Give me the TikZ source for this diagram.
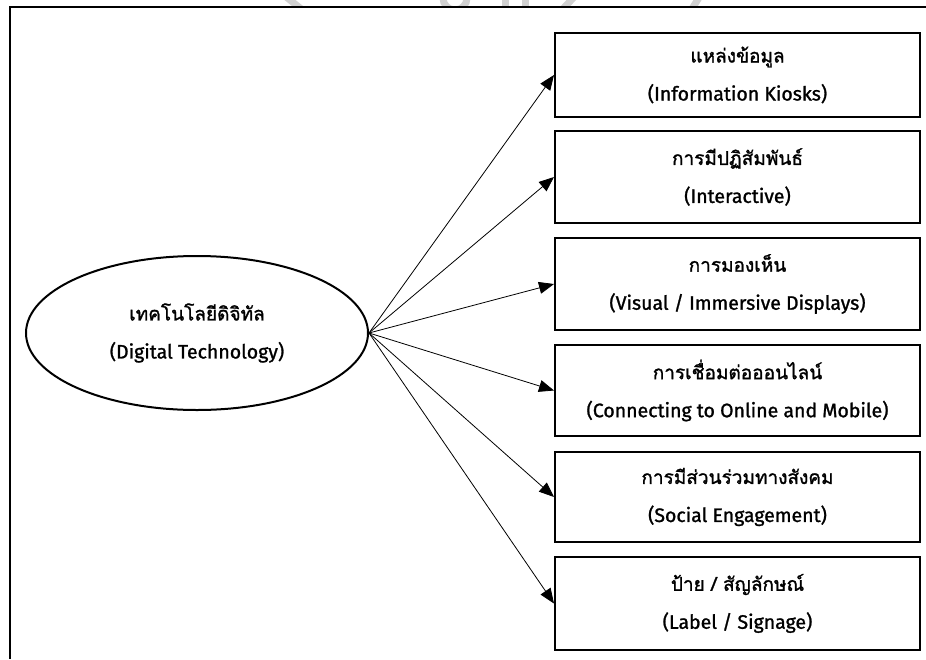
\documentclass[tikz,border=0pt]{standalone}
\usepackage{fontspec}
\usetikzlibrary{shapes.geometric,arrows.meta}
\newfontfamily\thaifont[Script=Thai,FakeBold=1.4]{Loma}
\newfontfamily\latinfont[FakeBold=1.2]{Fira Sans}
\newcommand{\thline}[1]{{\thaifont\fontsize{19}{38}\selectfont #1}}
\newcommand{\enline}[1]{{\latinfont\fontsize{19.5}{38}\selectfont #1}}
\begin{document}
\begin{tikzpicture}[x=1pt,y=-1pt,
  frameline/.style={line width=2.2pt,black},
  itembox/.style={draw,line width=2pt,rectangle,minimum width=365pt,inner sep=0pt,
    align=center,font=\fontsize{19}{38}\selectfont},
  hub/.style={draw,line width=2pt,ellipse,minimum width=342pt,minimum height=154pt,
    inner sep=0pt,align=center,font=\fontsize{19}{38}\selectfont},
  link/.style={line width=0.8pt,-{Triangle[length=15pt,width=12pt]}},
  seal/.style={line width=7pt,black!18}]
\useasboundingbox (0,0) rectangle (926,659);

% faint seal fragment above the frame
\begin{scope}
\clip (0,0) rectangle (926,6);
\draw[seal] (232,40) arc[start angle=180,end angle=110,radius=40];
\draw[seal] (285,-4) -- (305,12);
\draw[seal] (330,12) arc[start angle=180,end angle=90,radius=18];
\draw[seal] (400,30) arc[start angle=200,end angle=60,radius=30];
\draw[seal] (455,-2) circle[radius=12];
\draw[seal] (505,-4) -- (505,12);
\draw[seal] (525,-4) -- (525,12);
\draw[seal] (560,12) -- (575,-4);
\draw[seal] (620,12) arc[start angle=180,end angle=90,radius=20];
\draw[seal] (690,12) -- (700,-4);
\end{scope}

% outer frame
\draw[frameline] (926,7) -- (10,7) -- (10,659);

% hub
\node[hub] (dt) at (197,333) {\thline{เทคโนโลยีดิจิทัล}\\\enline{(Digital Technology)}};

% items
\node[itembox,minimum height=84pt] (b1) at (737.5,75)  {\thline{แหล่งข้อมูล}\\\enline{(Information Kiosks)}};
\node[itembox,minimum height=92pt] (b2) at (737.5,177) {\thline{การมีปฏิสัมพันธ์}\\\enline{(Interactive)}};
\node[itembox,minimum height=92pt] (b3) at (737.5,284) {\thline{การมองเห็น}\\\enline{(Visual / Immersive Displays)}};
\node[itembox,minimum height=91pt] (b4) at (737.5,390.5) {\thline{การเชื่อมต่อออนไลน์}\\\enline{(Connecting to Online and Mobile)}};
\node[itembox,minimum height=90pt] (b5) at (737.5,497) {\thline{การมีส่วนร่วมทางสังคม}\\\enline{(Social Engagement)}};
\node[itembox,minimum height=93pt] (b6) at (737.5,603.5) {\thline{ป้าย / สัญลักษณ์}\\\enline{(Label / Signage)}};

% connectors
\foreach \b in {b1,b2,b3,b4,b5,b6}
  \draw[link] (dt.east) -- (\b.west);
\end{tikzpicture}
\end{document}
